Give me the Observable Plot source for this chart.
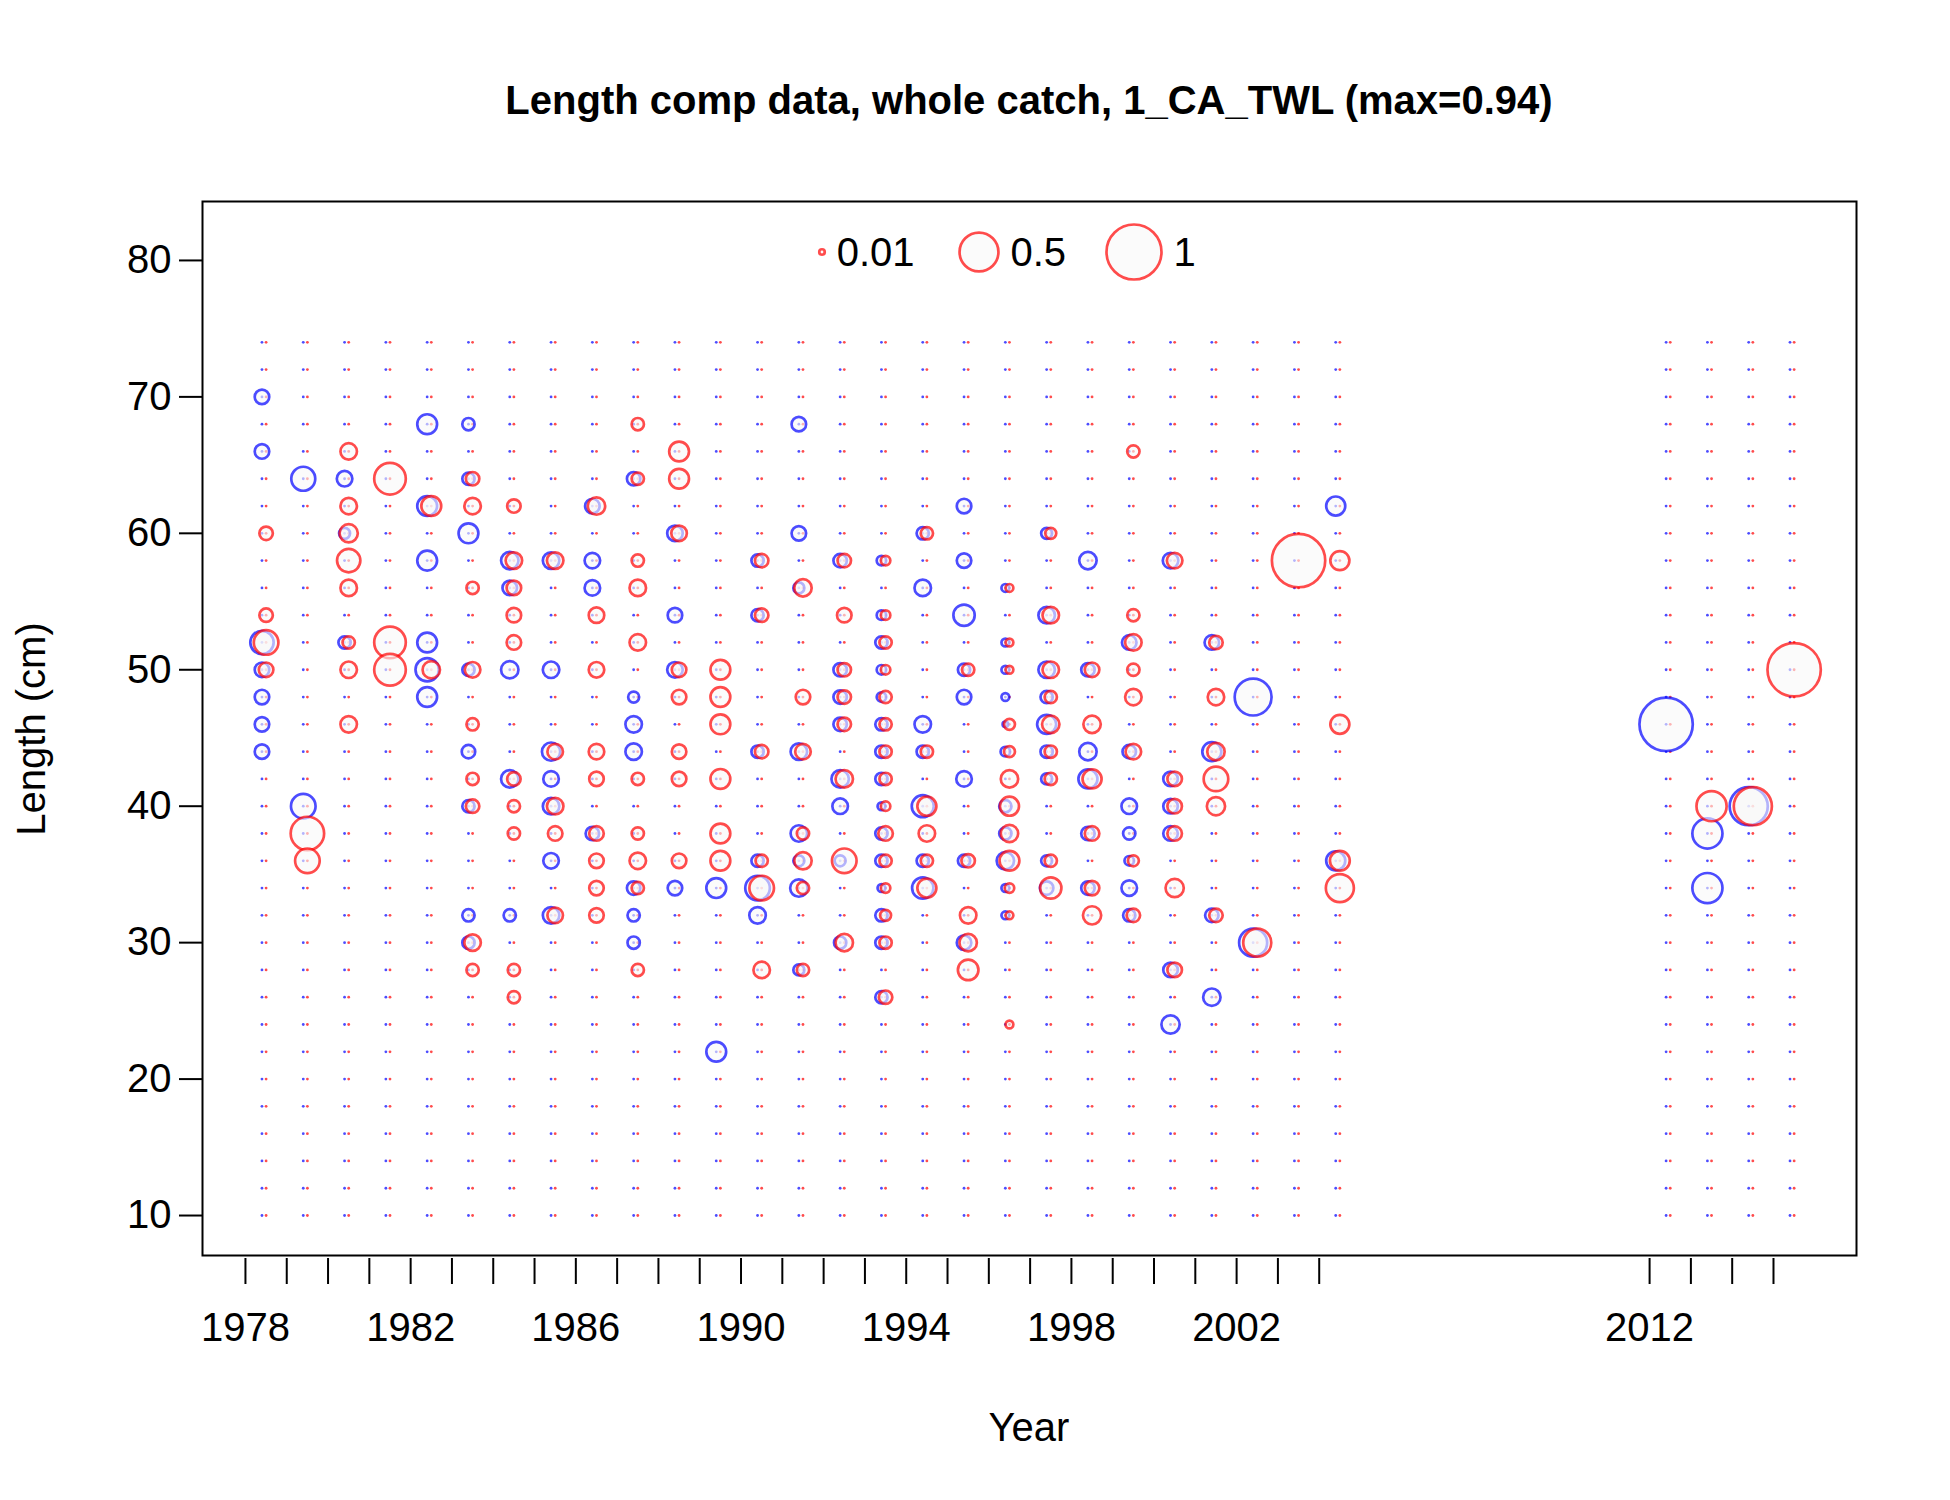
<!DOCTYPE html>
<html>
<head>
<meta charset="utf-8">
<script src="https://cdn.jsdelivr.net/npm/d3@7"></script>
<script src="https://cdn.jsdelivr.net/npm/@observablehq/plot@0.6"></script>
<style>
  body { margin: 0; background: #fff; font-family: "Liberation Sans", Arial, sans-serif; overflow: hidden; }
  #wrap { position: relative; width: 1950px; height: 1500px; overflow: hidden; }
  .t { position: absolute; white-space: nowrap; color: #000; z-index: 5; }
</style>
</head>
<body>
<div id="wrap">
  <div id="chart" style="position:absolute;left:0;top:0;"></div>
  <div class="t" id="title" style="left:0;width:2058px;top:78px;text-align:center;font-size:40px;font-weight:bold;">Length comp data, whole catch, 1_CA_TWL (max=0.94)</div>
  <div class="t" style="left:0;width:2058px;top:1405px;text-align:center;font-size:40px;">Year</div>
  <div class="t" style="left:31px;top:729px;font-size:40px;transform:translate(-50%,-50%) rotate(-90deg);">Length (cm)</div>
</div>
<script>
// ----------------- data -----------------
const years = [1978,1979,1980,1981,1982,1983,1984,1985,1986,1987,1988,1989,1990,1991,1992,1993,
  1994,1995,1996,1997,1998,1999,2000,2001,2002,2003,2004,2012,2013,2014,2015];
const lengths = d3.range(10, 76, 2);           // length bins, cm
const yearLabels = [1978,1982,1986,1990,1994,1998,2002,2012];
const lengthTicks = [10,20,30,40,50,60,70,80];
const legendVals = [0.01, 0.5, 1];

// [year, length, proportion]  (female = blue)
const femaleComps = [
  [1978,70,.07],[1978,66,.07],[1978,52,.18],[1978,50,.07],[1978,48,.07],[1978,46,.07],[1978,44,.07],
  [1979,64,.19],[1979,40,.2],
  [1980,64,.08],[1980,60,.04],[1980,52,.05],
  [1982,68,.13],[1982,62,.13],[1982,58,.13],[1982,52,.13],[1982,50,.18],[1982,48,.13],
  [1983,68,.05],[1983,64,.05],[1983,60,.13],[1983,50,.05],[1983,44,.06],[1983,40,.05],[1983,32,.05],[1983,30,.05],
  [1984,58,.1],[1984,56,.07],[1984,50,.1],[1984,42,.1],[1984,32,.05],
  [1985,58,.09],[1985,50,.09],[1985,44,.11],[1985,42,.08],[1985,40,.09],[1985,36,.08],[1985,32,.09],
  [1986,62,.07],[1986,58,.08],[1986,56,.08],[1986,38,.06],
  [1987,64,.06],[1987,48,.04],[1987,46,.09],[1987,44,.09],[1987,34,.06],[1987,32,.05],[1987,30,.05],
  [1988,60,.08],[1988,54,.07],[1988,50,.08],[1988,34,.07],
  [1989,34,.13],[1989,22,.13],
  [1990,58,.05],[1990,54,.05],[1990,44,.05],[1990,36,.05],[1990,34,.2],[1990,32,.09],
  [1991,68,.07],[1991,60,.07],[1991,56,.04],[1991,44,.09],[1991,38,.09],[1991,36,.04],[1991,34,.1],[1991,28,.04],
  [1992,58,.06],[1992,50,.06],[1992,48,.06],[1992,46,.06],[1992,42,.1],[1992,40,.08],[1992,36,.04],[1992,30,.05],
  [1993,58,.03],[1993,54,.03],[1993,52,.05],[1993,50,.03],[1993,48,.03],[1993,46,.05],[1993,44,.05],[1993,42,.05],
  [1993,40,.02],[1993,38,.05],[1993,36,.05],[1993,34,.02],[1993,32,.05],[1993,30,.05],[1993,26,.05],
  [1994,60,.05],[1994,56,.09],[1994,46,.09],[1994,44,.05],[1994,40,.16],[1994,36,.05],[1994,34,.15],
  [1995,62,.07],[1995,58,.07],[1995,54,.15],[1995,50,.05],[1995,48,.07],[1995,42,.08],[1995,36,.05],[1995,30,.07],
  [1996,56,.02],[1996,52,.02],[1996,50,.02],[1996,48,.02],[1996,46,.01],[1996,44,.03],[1996,40,.05],[1996,38,.05],
  [1996,36,.1],[1996,34,.02],[1996,32,.02],
  [1997,60,.04],[1997,54,.09],[1997,50,.09],[1997,48,.05],[1997,46,.12],[1997,44,.05],[1997,42,.04],[1997,36,.04],[1997,34,.06],
  [1998,58,.1],[1998,50,.06],[1998,44,.1],[1998,42,.12],[1998,38,.06],[1998,34,.06],
  [1999,52,.07],[1999,44,.06],[1999,40,.08],[1999,38,.05],[1999,36,.03],[1999,34,.08],[1999,32,.05],
  [2000,58,.08],[2000,42,.07],[2000,40,.07],[2000,38,.07],[2000,28,.07],[2000,24,.11],
  [2001,52,.07],[2001,44,.12],[2001,32,.06],[2001,26,.1],
  [2002,48,.45],[2002,30,.26],
  [2004,62,.12],[2004,36,.12],
  [2012,46,.94],
  [2013,38,.3],[2013,34,.3],
  [2014,40,.48]
];
// male = red
const maleComps = [
  [1978,60,.06],[1978,54,.06],[1978,52,.2],[1978,50,.07],
  [1979,38,.37],[1979,36,.2],
  [1980,66,.09],[1980,62,.09],[1980,60,.11],[1980,58,.18],[1980,56,.09],[1980,52,.05],[1980,50,.09],[1980,46,.09],
  [1981,64,.33],[1981,52,.33],[1981,50,.33],
  [1982,62,.13],[1982,50,.1],
  [1983,64,.06],[1983,62,.09],[1983,56,.05],[1983,50,.08],[1983,46,.05],[1983,42,.05],[1983,40,.06],[1983,30,.09],[1983,28,.05],
  [1984,62,.06],[1984,58,.09],[1984,56,.07],[1984,54,.07],[1984,52,.07],[1984,42,.06],[1984,40,.05],[1984,38,.05],[1984,28,.05],[1984,26,.05],
  [1985,58,.09],[1985,44,.08],[1985,40,.09],[1985,38,.07],[1985,32,.08],
  [1986,62,.1],[1986,54,.08],[1986,50,.08],[1986,44,.08],[1986,42,.07],[1986,38,.07],[1986,36,.07],[1986,34,.07],[1986,32,.07],
  [1987,68,.05],[1987,64,.05],[1987,58,.05],[1987,56,.09],[1987,52,.09],[1987,42,.05],[1987,38,.05],[1987,36,.09],[1987,34,.05],[1987,28,.05],
  [1988,66,.13],[1988,64,.13],[1988,60,.08],[1988,50,.07],[1988,48,.07],[1988,44,.07],[1988,42,.07],[1988,36,.07],
  [1989,50,.13],[1989,48,.13],[1989,46,.13],[1989,42,.13],[1989,38,.13],[1989,36,.13],
  [1990,58,.06],[1990,54,.06],[1990,44,.06],[1990,36,.05],[1990,34,.2],[1990,28,.09],
  [1991,56,.1],[1991,48,.07],[1991,44,.08],[1991,38,.05],[1991,36,.1],[1991,34,.05],[1991,28,.05],
  [1992,58,.06],[1992,54,.07],[1992,50,.06],[1992,48,.06],[1992,46,.06],[1992,42,.1],[1992,36,.2],[1992,30,.1],
  [1993,58,.03],[1993,54,.03],[1993,52,.05],[1993,50,.03],[1993,48,.05],[1993,46,.05],[1993,44,.05],[1993,42,.05],
  [1993,40,.03],[1993,38,.07],[1993,36,.05],[1993,34,.03],[1993,32,.04],[1993,30,.05],[1993,26,.06],
  [1994,60,.05],[1994,44,.05],[1994,40,.12],[1994,38,.09],[1994,36,.05],[1994,34,.12],
  [1995,50,.05],[1995,36,.06],[1995,32,.09],[1995,30,.1],[1995,28,.14],
  [1996,56,.02],[1996,52,.02],[1996,50,.02],[1996,46,.04],[1996,44,.04],[1996,42,.1],[1996,40,.12],[1996,38,.1],
  [1996,36,.13],[1996,34,.03],[1996,32,.02],[1996,24,.02],
  [1997,60,.04],[1997,54,.09],[1997,50,.09],[1997,48,.05],[1997,46,.1],[1997,44,.05],[1997,42,.05],[1997,36,.05],[1997,34,.15],
  [1998,50,.07],[1998,46,.1],[1998,42,.12],[1998,38,.07],[1998,34,.07],[1998,32,.11],
  [1999,66,.05],[1999,54,.05],[1999,52,.09],[1999,50,.05],[1999,48,.09],[1999,44,.08],[1999,36,.04],[1999,32,.06],
  [2000,58,.08],[2000,42,.07],[2000,40,.07],[2000,38,.07],[2000,34,.11],[2000,28,.07],
  [2001,52,.06],[2001,48,.09],[2001,44,.1],[2001,42,.2],[2001,40,.11],[2001,32,.06],
  [2002,30,.26],
  [2003,58,.94],
  [2004,58,.12],[2004,46,.12],[2004,36,.13],[2004,34,.26],
  [2013,40,.3],
  [2014,40,.48],
  [2015,50,.94]
];

// ----------------- helpers -----------------
const F_OFF = 0.4, M_OFF = 0.5;   // sexes drawn side by side within a year
const toRows = (arr, off) => arr.map(([y, l, v]) => ({ x: y + off, len: l, v }));
const grid = years.flatMap(y => lengths.map(l => ({ y, l })));
const blue = "rgba(0,0,255,0.7)", red = "rgba(255,0,0,0.7)", fillC = "rgba(248,248,248,0.6)";

const fig = Plot.plot({
  width: 1950, height: 1500,
  marginLeft: 202, marginRight: 94, marginTop: 201, marginBottom: 245,
  style: { fontFamily: "Liberation Sans, Arial, sans-serif", fontSize: "40px", background: "transparent" },
  x: { domain: [1976.96, 2017.01] },
  y: { domain: [7.07, 84.32] },
  r: { type: "sqrt", domain: [0, 1], range: [0, 27.5] },
  marks: [
    Plot.dot(grid, { x: d => d.y + F_OFF, y: "l", r: 1.4, fill: blue, stroke: null }),
    Plot.dot(grid, { x: d => d.y + M_OFF, y: "l", r: 1.4, fill: red, stroke: null }),
    Plot.dot(toRows(femaleComps, F_OFF), { x: "x", y: "len", r: "v", stroke: blue, fill: fillC, strokeWidth: 2.7 }),
    Plot.dot(toRows(maleComps, M_OFF), { x: "x", y: "len", r: "v", stroke: red, fill: fillC, strokeWidth: 2.7 }),
    Plot.axisX({ ticks: years, tickFormat: d => yearLabels.includes(d) ? String(d) : "",
      tickSize: 26, tickPadding: 28, strokeWidth: 2, dy: 3, label: null, fontSize: 40 }),
    Plot.axisY({ ticks: lengthTicks, tickSize: 23, tickPadding: 8, strokeWidth: 2, label: null, fontSize: 40 }),
    Plot.frame({ stroke: "black", strokeWidth: 2 })
  ]
});
document.getElementById("chart").appendChild(fig);

// ----------------- size legend (top, inside box) -----------------
const lg = d3.select("#wrap").append("svg")
  .style("position", "absolute").style("left", "0px").style("top", "0px")
  .attr("width", 1950).attr("height", 320);
const rs = d3.scaleSqrt().domain([0, 1]).range([0, 27.5]);
const legX = [822, 979, 1134];
legendVals.forEach((v, i) => {
  lg.append("circle").attr("cx", legX[i]).attr("cy", 252).attr("r", rs(v))
    .attr("fill", fillC).attr("stroke", red).attr("stroke-width", 2.7);
  lg.append("text").attr("x", legX[i] + rs(v) + 12).attr("y", 252).attr("dy", "0.35em")
    .attr("font-size", 40).attr("font-family", "Liberation Sans, Arial, sans-serif").text(String(v));
});
</script>
</body>
</html>
